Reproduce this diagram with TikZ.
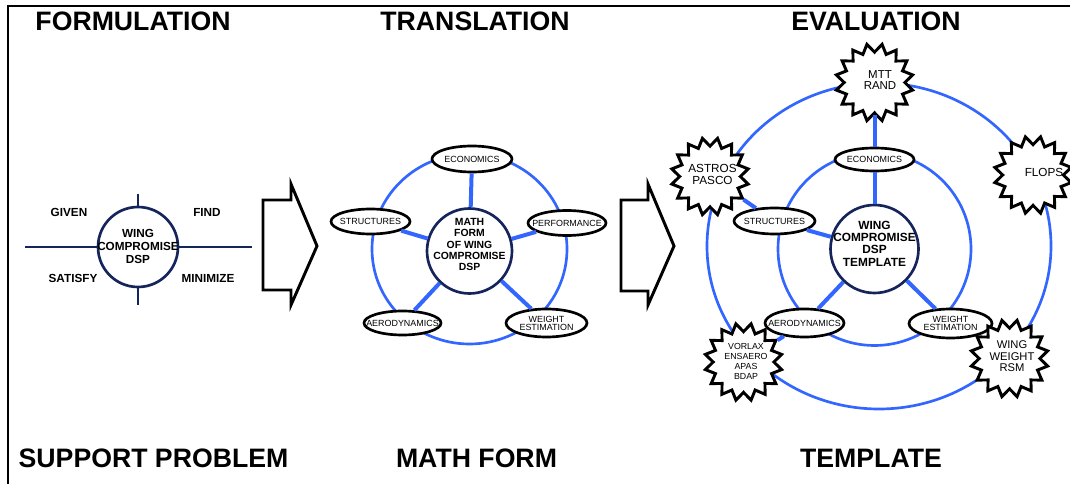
\documentclass[tikz,border=0pt]{standalone}
\usepackage{fontspec}
\setmainfont{Liberation Sans}
\usetikzlibrary{shapes.geometric}
\definecolor{ringblue}{RGB}{51,102,255}
\definecolor{navy}{RGB}{22,36,92}
\begin{document}
\begin{tikzpicture}[x=0.75pt,y=-0.75pt,
  heading/.style={font=\fontsize{20}{21}\selectfont\bfseries, inner sep=0pt},
  hub/.style={circle, draw=navy, line width=2pt, fill=white, inner sep=0pt},
  hubtext/.style={align=center, inner sep=0pt},
  pill/.style={ellipse, draw=black, line width=2pt, fill=white, inner sep=0pt},
  pilltext/.style={align=center, inner sep=0pt, font=\fontsize{6.7}{6}\selectfont},
  burst/.style={star, star points=16, star point ratio=0.78, draw=black, line width=2.2pt,
    fill=white, inner sep=0pt, minimum size=45.5pt},
  bursttext/.style={align=center, inner sep=0pt},
  ring/.style={draw=ringblue, line width=2pt},
  spoke/.style={draw=ringblue, line width=3pt},
  axis/.style={draw=navy, line width=2.2pt},
  blockarrow/.style={draw=black, line width=2.2pt, line join=miter, fill=white},
  quad/.style={font=\fontsize{8.8}{9}\selectfont\bfseries, inner sep=0pt}
]
\useasboundingbox (0,0) rectangle (1070,484);

% frame (left and top edges)
\draw[line width=1.5pt] (8,484) -- (8,6) -- (1070,6);

% column headings
\node[heading] (h1) at (133,21) {FORMULATION};
\node[heading] (h2) at (475,21) {TRANSLATION};
\node[heading] (h3) at (876,21) {EVALUATION};
\node[heading] (f1) at (153.5,458) {SUPPORT PROBLEM};
\node[heading] (f2) at (476.5,458) {MATH FORM};
\node[heading] (f3) at (871,458) {TEMPLATE};

% ---------- formulation: decision support problem ----------
\node[hub, minimum size=60pt] (lhub) at (138,247) {};
\node[hubtext, font=\fontsize{8.8}{10}\selectfont\bfseries] (lhubtxt) at (138,246.5) {WING\\COMPROMISE\\DSP};
\coordinate (lw) at (25,247);
\coordinate (le) at (252,247);
\coordinate (ln) at (138,194);
\coordinate (ls) at (138,305);
\draw[axis] (lw) -- (lhub);
\draw[axis] (le) -- (lhub);
\draw[axis] (ln) -- (lhub);
\draw[axis] (ls) -- (lhub);
\node[quad] (given) at (69,212) {GIVEN};
\node[quad] (find) at (207,212) {FIND};
\node[quad] (satisfy) at (73,278) {SATISFY};
\node[quad] (minimize) at (208,278) {MINIMIZE};

% block arrows between stages
\draw[blockarrow] (263,200) -- (291,200) -- (291,184) -- (317,246) -- (291,305) -- (291,290) -- (263,290) -- cycle;
\draw[blockarrow] (621,200) -- (648,200) -- (648,184) -- (674,246) -- (648,305) -- (648,291) -- (621,291) -- cycle;

% ---------- translation: math form ----------
\draw[ring] (469.5,249) ellipse [x radius=97.5, y radius=95];
\node[hub, minimum size=63.75pt] (mhub) at (469.5,251) {};
\node[hubtext, font=\fontsize{7.8}{8.3}\selectfont\bfseries] (mhubtxt) at (469.5,244.5) {MATH\\FORM\\OF WING\\COMPROMISE\\DSP};
\node[pill, minimum width=60pt, minimum height=19.5pt, label={[pilltext]center:ECONOMICS}] (mecon) at (472,159) {};
\node[pill, minimum width=59.25pt, minimum height=18.75pt, label={[pilltext]center:STRUCTURES}] (mstruct) at (370.5,221.5) {};
\node[pill, minimum width=58.5pt, minimum height=18.75pt, label={[pilltext]center:PERFORMANCE}] (mperf) at (567,223) {};
\node[pill, minimum width=57.75pt, minimum height=18pt, label={[pilltext]center:AERODYNAMICS}] (maero) at (402.5,323) {};
\node[pill, minimum width=60.75pt, minimum height=21pt, label={[pilltext]center:WEIGHT\\ESTIMATION}] (mweight) at (546.5,323) {};
\draw[spoke] (mhub) -- (mecon);
\draw[spoke] (mhub) -- (mstruct);
\draw[spoke] (mhub) -- (mperf);
\draw[spoke] (mhub) -- (maero);
\draw[spoke] (mhub) -- (mweight);

% ---------- evaluation: template with analysis codes ----------
\draw[ring] (879,246) ellipse [x radius=172, y radius=163];
\draw[ring] (874.5,249) circle [radius=96.5];
\node[hub, minimum size=66pt] (rhub) at (874.5,249) {};
\node[hubtext, font=\fontsize{8.9}{9.25}\selectfont\bfseries] (rhubtxt) at (874.5,243.5) {WING\\COMPROMISE\\DSP\\TEMPLATE};
\node[pill, minimum width=59.25pt, minimum height=17.25pt, label={[pilltext]center:ECONOMICS}] (recon) at (874.5,159.5) {};
\node[pill, minimum width=60.75pt, minimum height=19.5pt, label={[pilltext]center:STRUCTURES}] (rstruct) at (774.5,221) {};
\node[pill, minimum width=59.25pt, minimum height=21pt, label={[pilltext]center:AERODYNAMICS}] (raero) at (804.5,323) {};
\node[pill, minimum width=62.25pt, minimum height=21.75pt, label={[pilltext]center:WEIGHT\\ESTIMATION}] (rweight) at (950.5,323.5) {};

\node[burst] (mtt) at (874.5,82.5) {};
\node[bursttext, font=\fontsize{8.6}{8}\selectfont] (mtttxt) at (880,80) {MTT\\RAND};
\node[burst] (astros) at (710,176.5) {};
\node[bursttext, font=\fontsize{8.8}{9}\selectfont] (astrostxt) at (712.5,174) {ASTROS\\PASCO};
\node[burst] (flops) at (1033,175) {};
\node[bursttext, font=\fontsize{8.8}{9}\selectfont] (flopstxt) at (1044,172) {FLOPS};
\node[burst] (vorlax) at (743.5,362) {};
\node[bursttext, font=\fontsize{6.6}{7.5}\selectfont] (vorlaxtxt) at (746,361.5) {VORLAX\\ENSAERO\\APAS\\BDAP};
\node[burst] (wingw) at (1009.5,358.5) {};
\node[bursttext, font=\fontsize{8.4}{8.6}\selectfont] (wingwtxt) at (1012,356.5) {WING\\WEIGHT\\RSM};

\draw[spoke] (rhub) -- (recon);
\draw[spoke] (rhub) -- (rstruct);
\draw[spoke] (rhub) -- (raero);
\draw[spoke] (rhub) -- (rweight);
\draw[spoke] (mtt) -- (recon);
\draw[spoke] (astros) -- (rstruct);
\draw[spoke] (vorlax) -- (raero);
\end{tikzpicture}
\end{document}
